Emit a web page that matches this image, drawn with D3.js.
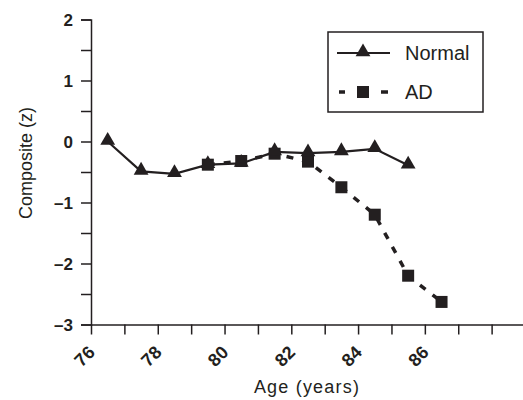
<!DOCTYPE html>
<html>
<head>
<meta charset="utf-8">
<script src="https://cdn.jsdelivr.net/npm/d3@7"></script>
<style>
  body { margin: 0; background: #fff; }
  svg text { font-family: Arial, "Liberation Sans", Helvetica, sans-serif; fill: #231f20; }
</style>
</head>
<body>
<svg id="chart" width="523" height="400"></svg>
<script>
// data
let normalAge = [76.5, 77.5, 78.5, 79.5, 80.5, 81.5, 82.5, 83.5, 84.5, 85.5]
let normalZ   = [0.0, -0.49, -0.53, -0.38, -0.36, -0.17, -0.19, -0.17, -0.12, -0.39]
let adAge = [79.5, 80.5, 81.5, 82.5, 83.5, 84.5, 85.5, 86.5]
let adZ   = [-0.38, -0.32, -0.2, -0.33, -0.75, -1.2, -2.2, -2.63]

let yTicks = [2, 1, 0, -1, -2, -3]
let xLabels = [76, 78, 80, 82, 84, 86]
let seriesNames = ['Normal', 'AD']

let ink = '#231f20'
let svg = d3.select('#chart')

let xScale = d3.scaleLinear().domain([76, 89]).range([91, 525])
let yScale = d3.scaleLinear().domain([-3, 2]).range([324.5, 19.5])

// ---- axes
let axisY = d3.axisLeft(yScale)
  .tickValues(d3.range(-3, 2.01, 0.5))
  .tickSize(10)
  .tickFormat('')

let gy = svg.append('g')
  .attr('transform', `translate(${xScale(76)},0)`)
  .call(axisY)
gy.select('.domain').attr('stroke', ink).attr('stroke-width', 1.5)
gy.selectAll('.tick line').attr('stroke', ink).attr('stroke-width', 1.5)

let axisX = d3.axisBottom(xScale)
  .tickValues(d3.range(76, 89))
  .tickSize(10)
  .tickSizeOuter(0)
  .tickFormat('')

let gx = svg.append('g')
  .attr('transform', `translate(0,${yScale(-3)})`)
  .call(axisX)
gx.select('.domain').attr('stroke', ink).attr('stroke-width', 1.5)
gx.selectAll('.tick line').attr('stroke', ink).attr('stroke-width', 1.5)

// y tick labels
svg.selectAll('.ylab').data(yTicks).enter().append('text')
  .attr('class', 'ylab')
  .attr('x', 73)
  .attr('y', d => yScale(d) + 6)
  .attr('text-anchor', 'end')
  .style('font-size', '17px')
  .style('font-weight', 'bold')
  .text(d => d < 0 ? '\u2013' + Math.abs(d) : d)

// x tick labels, rotated
svg.selectAll('.xlab').data(xLabels).enter().append('text')
  .attr('class', 'xlab')
  .attr('text-anchor', 'end')
  .attr('transform', d => `translate(${xScale(d) + 5},${yScale(-3) + 29}) rotate(-45)`)
  .style('font-size', '18px')
  .style('font-weight', 'bold')
  .text(d => d)

// axis titles
svg.append('text')
  .attr('x', 307)
  .attr('y', 393)
  .attr('text-anchor', 'middle')
  .style('font-size', '18px')
  .style('letter-spacing', '1.2px')
  .text('Age (years)')

svg.append('text')
  .attr('transform', 'translate(32,163) rotate(-90)')
  .attr('text-anchor', 'middle')
  .style('font-size', '18px')
  .text('Composite (z)')

// ---- lines
let normalData = normalAge.map((a, i) => ({age: a, z: normalZ[i]}))
let adData = adAge.map((a, i) => ({age: a, z: adZ[i]}))

let lineGen = d3.line()
  .x(d => xScale(d.age))
  .y(d => yScale(d.z))

svg.append('path')
  .datum(adData)
  .attr('d', lineGen)
  .attr('fill', 'none')
  .attr('stroke', ink)
  .attr('stroke-width', 3.5)
  .attr('stroke-dasharray', '7,9')

svg.append('path')
  .datum(normalData)
  .attr('d', lineGen)
  .attr('fill', 'none')
  .attr('stroke', ink)
  .attr('stroke-width', 2.2)

let tri = d3.symbol().type(d3.symbolTriangle).size(95)

svg.selectAll('.sq').data(adData).enter().append('rect')
  .attr('class', 'sq')
  .attr('x', d => xScale(d.age) - 6)
  .attr('y', d => yScale(d.z) - 6)
  .attr('width', 12)
  .attr('height', 12)
  .attr('fill', ink)

svg.selectAll('.tri').data(normalData).enter().append('path')
  .attr('class', 'tri')
  .attr('d', tri)
  .attr('transform', d => `translate(${xScale(d.age)},${yScale(d.z) - 1})`)
  .attr('fill', ink)

// ---- legend
let leg = svg.append('g')
leg.append('rect')
  .attr('x', 328).attr('y', 32)
  .attr('width', 155).attr('height', 80)
  .attr('fill', 'white')
  .attr('stroke', ink)
  .attr('stroke-width', 1.5)

leg.append('line')
  .attr('x1', 337).attr('x2', 390)
  .attr('y1', 53).attr('y2', 53)
  .attr('stroke', ink).attr('stroke-width', 2.2)
leg.append('path')
  .attr('d', tri)
  .attr('transform', 'translate(363,52)')
  .attr('fill', ink)

leg.append('line')
  .attr('x1', 339).attr('x2', 388)
  .attr('y1', 92).attr('y2', 92)
  .attr('stroke', ink).attr('stroke-width', 3.5)
  .attr('stroke-dasharray', '6,36,7')
leg.append('rect')
  .attr('x', 357).attr('y', 86)
  .attr('width', 12).attr('height', 12)
  .attr('fill', ink)

leg.selectAll('.legtext').data(seriesNames).enter().append('text')
  .attr('class', 'legtext')
  .attr('x', 405)
  .attr('y', (d, i) => i == 0 ? 60 : 99)
  .style('font-size', '20px')
  .text(d => d)
</script>
</body>
</html>
